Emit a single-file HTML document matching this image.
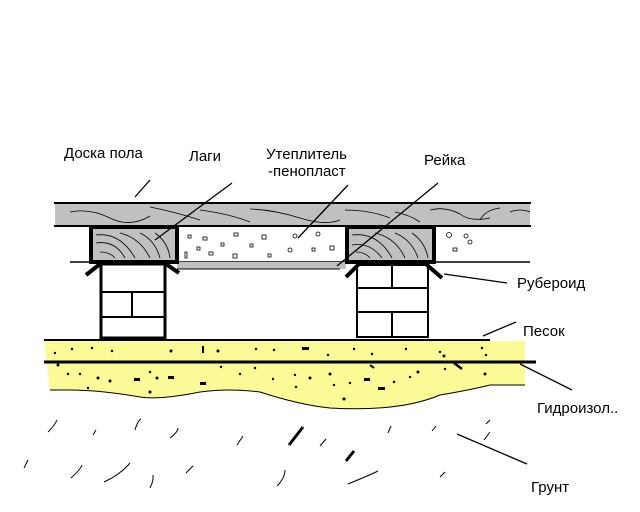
<!DOCTYPE html>
<html><head><meta charset="utf-8"><style>
body{margin:0;background:#fff;}
svg{display:block;}
text{font-family:"Liberation Sans",sans-serif;font-size:15px;fill:#000;}
</style></head><body>
<svg width="640" height="512" viewBox="0 0 640 512" xmlns="http://www.w3.org/2000/svg">
<rect width="640" height="512" fill="#fff"/>
<path d="M44,341 L525,341 L525,385 L490,385 Q470,390 440,395 Q400,412 330,408 Q300,405 260,392 Q230,388 200,392 Q160,400 140,397 Q100,390 70,390 L50,390 Z" fill="#fafa96"/>
<path d="M50,390 L70,390 Q100,390 140,397 Q160,400 200,392 Q230,388 260,392 Q300,405 330,408 Q400,412 440,395 Q470,390 490,385 L525,385" fill="none" stroke="#000" stroke-width="1"/>
<line x1="44" y1="340" x2="490" y2="340" stroke="#000" stroke-width="2"/>
<line x1="44" y1="362" x2="536" y2="362" stroke="#000" stroke-width="3"/>
<g fill="#000">
<circle cx="55" cy="353" r="1.2"/><circle cx="72" cy="349" r="1.2"/><circle cx="92" cy="348" r="1.2"/><circle cx="112" cy="351" r="1.2"/><circle cx="171" cy="351" r="1.5"/><rect x="202" y="346" width="2" height="7"/><circle cx="218" cy="351" r="1.5"/><circle cx="256" cy="349" r="1.2"/><circle cx="274" cy="350" r="1.2"/><rect x="302" y="347" width="7" height="3"/><circle cx="328" cy="355" r="1.2"/><circle cx="354" cy="349" r="1.2"/><circle cx="372" cy="354" r="1.2"/><circle cx="406" cy="349" r="1.2"/><circle cx="440" cy="352" r="1.2"/><circle cx="444" cy="356" r="1.5"/><circle cx="482" cy="348" r="1.2"/><circle cx="486" cy="355" r="1.2"/>
<circle cx="58" cy="365" r="1.5"/><circle cx="68" cy="374" r="1.2"/><circle cx="80" cy="374" r="1.2"/><circle cx="98" cy="378" r="1.5"/><circle cx="110" cy="381" r="1.5"/><circle cx="88" cy="388" r="1.2"/><rect x="134" y="378" width="6" height="3"/><circle cx="157" cy="378" r="1.5"/><rect x="168" y="376" width="6" height="3"/><circle cx="150" cy="372" r="1.2"/><circle cx="150" cy="392" r="1.5"/><rect x="200" y="382" width="6" height="3"/><circle cx="221" cy="367" r="1.2"/><circle cx="240" cy="374" r="1.2"/><circle cx="255" cy="368" r="1.2"/><circle cx="273" cy="379" r="1.2"/><circle cx="295" cy="375" r="1.2"/><circle cx="296" cy="387" r="1.2"/><circle cx="310" cy="378" r="1.5"/><circle cx="330" cy="374" r="1.5"/><circle cx="334" cy="385" r="1.2"/><circle cx="350" cy="383" r="1.2"/><rect x="364" y="378" width="6" height="3"/><rect x="378" y="387" width="7" height="3"/><circle cx="394" cy="382" r="1.2"/><circle cx="410" cy="377" r="1.2"/><circle cx="418" cy="372" r="1.5"/><circle cx="344" cy="399" r="1.5"/><circle cx="445" cy="369" r="1.2"/><circle cx="485" cy="374" r="1.5"/><line x1="454" y1="363" x2="462" y2="369" stroke="#000" stroke-width="2.5"/><line x1="370" y1="365" x2="374" y2="368" stroke="#000" stroke-width="2"/>
</g>
<rect x="55" y="203" width="475" height="23" fill="#c0c0c0"/>
<line x1="54" y1="203" x2="531" y2="203" stroke="#000" stroke-width="2"/>
<line x1="54" y1="226" x2="531" y2="226" stroke="#000" stroke-width="2"/>
<g fill="none" stroke="#000" stroke-width="0.8">
<path d="M70,212 Q90,208 110,218 T150,216"/><path d="M150,207 Q175,212 200,220"/><path d="M200,210 Q230,214 250,222"/><path d="M250,209 Q275,210 300,218 T340,220"/><path d="M345,210 Q370,210 390,218"/><path d="M395,212 Q410,215 420,222"/><path d="M430,210 Q445,206 460,214 Q470,222 490,218"/><path d="M480,220 Q485,210 500,208"/><path d="M510,212 Q520,208 530,212"/>
</g>
<line x1="70" y1="262" x2="530" y2="262" stroke="#000" stroke-width="1.5"/>
<rect x="177" y="262" width="169" height="7" fill="#c0c0c0"/>
<line x1="177" y1="269" x2="340" y2="269" stroke="#000" stroke-width="1"/>
<g fill="none" stroke="#000" stroke-width="0.8">
<rect x="188" y="235" width="3" height="3"/><rect x="203" y="237" width="4" height="3"/><rect x="234" y="233" width="4" height="3"/><rect x="262" y="235" width="4" height="4"/><rect x="221" y="243" width="3" height="3"/><rect x="197" y="247" width="3" height="3"/><rect x="209" y="252" width="4" height="3"/><rect x="233" y="254" width="4" height="4"/><rect x="250" y="244" width="3" height="3"/><rect x="268" y="254" width="3" height="3"/><circle cx="295" cy="236" r="2"/><circle cx="290" cy="250" r="2"/><rect x="312" y="248" width="3" height="3"/><rect x="330" y="246" width="4" height="4"/><rect x="185" y="252" width="2" height="6"/><circle cx="318" cy="234" r="2"/><circle cx="449" cy="235" r="2.5"/><circle cx="466" cy="236" r="2"/><rect x="453" y="248" width="4" height="3"/><circle cx="470" cy="242" r="2"/>
</g>
<g>
<rect x="91" y="227" width="86" height="35" fill="#c0c0c0" stroke="#000" stroke-width="4"/>
<rect x="347" y="227" width="87" height="35" fill="#c0c0c0" stroke="#000" stroke-width="4"/>
<g fill="none" stroke="#000" stroke-width="0.8">
<path d="M96,235 Q120,232 135,258"/><path d="M96,243 Q115,240 125,258"/><path d="M120,233 Q140,238 150,258"/><path d="M140,233 Q155,240 160,258"/><path d="M155,233 Q168,242 170,258"/><path d="M100,252 Q110,252 115,258"/>
<path d="M352,235 Q378,232 392,258"/><path d="M352,245 Q370,242 382,258"/><path d="M375,233 Q396,238 405,258"/><path d="M395,233 Q412,240 418,258"/><path d="M412,233 Q425,242 428,258"/><path d="M356,252 Q365,252 370,258"/>
</g>
</g>
<g fill="none" stroke="#000">
<rect x="101" y="264" width="64" height="74" stroke-width="3"/>
<line x1="102" y1="292" x2="165" y2="292" stroke-width="2"/><line x1="102" y1="317" x2="166" y2="317" stroke-width="2"/><line x1="132" y1="292" x2="132" y2="317" stroke-width="2"/>
<rect x="357" y="265" width="71" height="72" stroke-width="2"/>
<line x1="357" y1="288" x2="428" y2="288" stroke-width="2"/><line x1="357" y1="312" x2="429" y2="312" stroke-width="2"/><line x1="392" y1="265" x2="392" y2="288" stroke-width="2"/><line x1="392" y1="312" x2="392" y2="337" stroke-width="2"/>
<line x1="86" y1="275" x2="100" y2="264" stroke-width="4"/><line x1="166" y1="264" x2="179" y2="273" stroke-width="4"/>
<line x1="346" y1="277" x2="358" y2="265" stroke-width="4"/><line x1="427" y1="265" x2="442" y2="278" stroke-width="4"/>
</g>
<g fill="none" stroke="#000" stroke-width="1">
<path d="M48,432 Q55,425 57,420"/><path d="M93,435 L96,430"/><path d="M135,430 Q138,420 141,419"/><path d="M170,438 Q178,432 178,428"/><path d="M237,445 L243,436"/><path d="M320,446 L326,439"/><path d="M388,433 L391,426"/><path d="M432,431 L436,426"/><path d="M484,440 L490,432"/><path d="M71,478 Q80,470 82,465"/><path d="M104,482 Q120,475 130,463"/><path d="M150,488 Q154,480 153,475"/><path d="M186,473 L193,466"/><path d="M277,486 Q285,478 285,470"/><path d="M348,484 Q370,475 378,471"/><path d="M440,477 L445,472"/><path d="M486,424 L490,420"/><path d="M24,468 L28,460"/>
<path d="M289,445 L303,427" stroke-width="3"/><path d="M346,461 L354,451" stroke-width="3"/>
</g>
<g stroke="#000" stroke-width="1.3">
<line x1="135" y1="197" x2="150" y2="180"/><line x1="155" y1="240" x2="232" y2="183"/><line x1="298" y1="238" x2="348" y2="185"/><line x1="337" y1="266" x2="438" y2="183"/><line x1="444" y1="274" x2="507" y2="283"/><line x1="483" y1="336" x2="516" y2="322"/><line x1="520" y1="364" x2="572" y2="390"/><line x1="457" y1="434" x2="527" y2="464"/>
</g>
<text x="64" y="158">Доска пола</text>
<text x="189" y="161">Лаги</text>
<text x="266" y="159">Утеплитель</text>
<text x="268" y="176">-пенопласт</text>
<text x="424" y="165">Рейка</text>
<text x="517" y="288">Рубероид</text>
<text x="523" y="336">Песок</text>
<text x="537" y="413">Гидроизол..</text>
<text x="531" y="492">Грунт</text>
</svg>
</body></html>
